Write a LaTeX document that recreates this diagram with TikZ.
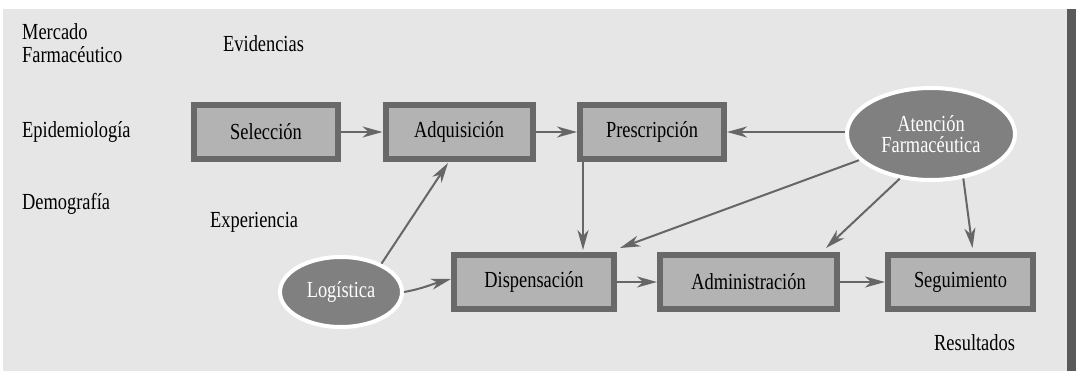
\documentclass[tikz,border=0pt]{standalone}
\usepackage{fontspec}
\setmainfont{Liberation Serif}[FakeStretch=0.8]
\usetikzlibrary{shapes.geometric,arrows.meta,calc}
\definecolor{bg}{HTML}{E6E6E6}
\definecolor{barc}{HTML}{5A5A5A}
\definecolor{boxb}{HTML}{696969}
\definecolor{boxf}{HTML}{B3B3B3}
\definecolor{ellf}{HTML}{808080}
\definecolor{arrc}{HTML}{666666}
\tikzset{
  stepbox/.style={draw=boxb, fill=boxf, line width=6pt, minimum height=54pt, inner sep=0pt},
  ell/.style={ellipse, draw=white, line width=4pt, fill=ellf, text=white, inner sep=0pt, align=center},
  lab/.style={inner sep=0pt, anchor=base west, align=left},
  arr/.style={draw=arrc, line width=2pt, -{Stealth[length=20pt,width=11pt,inset=6pt]}}
}
\begin{document}
\begin{tikzpicture}[x=1pt,y=-1pt,font=\fontsize{23}{23}\selectfont]
\useasboundingbox (0,0) rectangle (1076,371);
\fill[white] (0,0) rectangle (1076,371);
\fill[bg] (3,9) rectangle (1067,371);
\fill[barc] (1067,9) rectangle (1076,371);

% labels
\node[lab] (merc) at (22,63) {Mercado\\Farmacéutico};
\node[lab] (evid) at (223,52) {Evidencias};
\node[lab] (epid) at (22,138) {Epidemiología};
\node[lab] (demo) at (22,210) {Demografía};
\node[lab] (expe) at (210,228) {Experiencia};
\node[lab] (resu) at (934,350) {Resultados};

% boxes
\node[stepbox, minimum width=144pt] (sel) at (266,132) {Selección};
\node[stepbox, minimum width=147pt] (adq) at (459,132) {Adquisición};
\node[stepbox, minimum width=144pt] (pres) at (652,132) {Prescripción};
\node[stepbox, minimum width=160pt] (disp) at (534,282) {Dispensación};
\node[stepbox, minimum width=177pt] (admin) at (748.5,282) {Administración};
\node[stepbox, minimum width=145pt] (seg) at (960.5,282) {Seguimiento};

% ellipses
\node[ell, minimum width=168pt, minimum height=92pt, font=\fontsize{23}{21}\selectfont] (aten) at (931,134) {Atención\\Farmacéutica};
\node[ell, minimum width=122pt, minimum height=70pt] (log) at (341,292) {Logística};

% connectors
\draw[arr] (sel) -- (adq);
\draw[arr] (adq) -- (pres);
\draw[arr] (aten.west |- pres.east) -- (pres.east);
\draw[arr] ([xshift=6pt]pres.south west) -- ([xshift=6pt,yshift=2pt]pres.south west |- disp.north);
\draw[arr] (log.35) -- ([xshift=-11pt,yshift=-1pt]adq.south);
\draw[arr] (log.east) to[out=10,in=195] ([yshift=3pt]disp.west);
\draw[arr] (disp) -- (admin);
\draw[arr] (admin) -- (seg);
\draw[arr] (aten.200) -- ([shift={(3pt,4pt)}]disp.north east);
\draw[arr] (aten.235) -- ([shift={(-14pt,4pt)}]admin.north east);
\draw[arr] (aten.306) -- ([shift={(12pt,4pt)}]seg.north);
\end{tikzpicture}
\end{document}
